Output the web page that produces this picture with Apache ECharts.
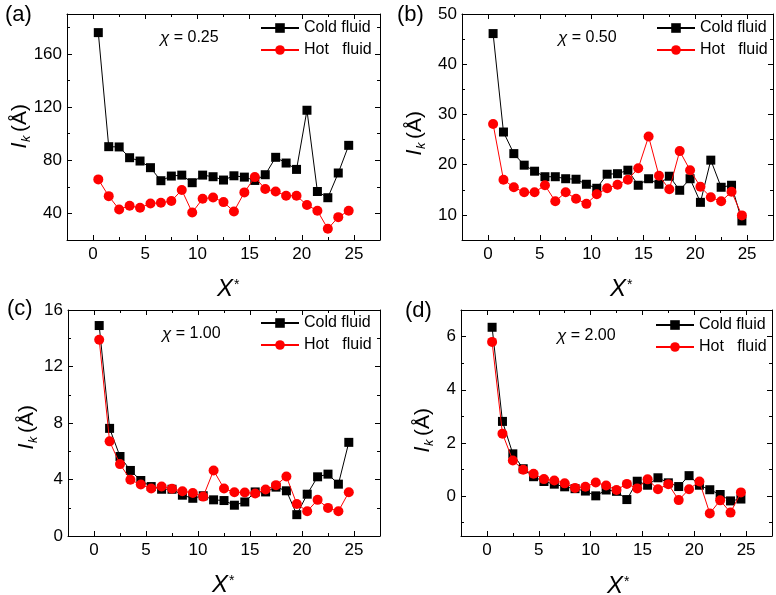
<!DOCTYPE html>
<html><head><meta charset="utf-8">
<script src="https://cdn.jsdelivr.net/npm/echarts@6/dist/echarts.min.js"></script>
<style>html,body{margin:0;padding:0;background:#fff}#c{width:776px;height:595px}</style>
</head><body><div id="c"></div>
<script>
// ---------------- data ----------------
const xStar = [0.5,1.5,2.5,3.5,4.5,5.5,6.5,7.5,8.5,9.5,10.5,11.5,12.5,13.5,14.5,15.5,16.5,17.5,18.5,19.5,20.5,21.5,22.5,23.5,24.5];

const coldA = [176,90.2,90,81.9,79.4,74.4,64.6,68.1,68.8,63.1,68.8,67.6,65.1,68.3,67.3,64.8,69.1,82.2,77.9,73.1,117.6,56.5,51.8,70.4,91.2];
const hotA  = [65.6,53.0,43.0,45.7,44.2,47.5,48.0,49.3,57.6,40.7,51.0,52.0,48.5,41.5,55.8,67.3,58.3,56.5,53.3,53.3,46.3,42.0,28.4,37.2,42.0];

const coldB = [46.1,26.5,22.2,19.9,18.7,17.6,17.6,17.2,17.1,16.1,15.3,18.1,18.2,18.9,15.9,17.2,16.1,17.7,14.9,17.2,12.5,20.9,15.5,15.9,8.8];
const hotB  = [28.1,17.0,15.5,14.5,14.5,15.9,12.7,14.5,13.2,12.2,14.1,15.3,16.0,17.0,19.3,25.6,17.8,15.1,22.7,18.9,15.6,13.5,12.7,14.6,9.9];

const coldC = [14.9,7.62,5.63,4.64,3.93,3.50,3.31,3.31,2.89,2.67,2.85,2.56,2.51,2.18,2.41,3.12,3.12,3.46,3.20,1.51,2.96,4.19,4.38,3.67,6.63];
const hotC  = [13.9,6.70,5.09,3.98,3.64,3.36,3.50,3.34,3.17,3.05,2.79,4.64,3.36,3.10,3.08,3.01,3.29,3.60,4.21,2.27,1.75,2.56,1.99,1.75,3.10];

const coldD = [6.35,2.81,1.59,1.03,0.73,0.55,0.45,0.35,0.28,0.19,0.01,0.23,0.18,-0.13,0.56,0.41,0.69,0.50,0.36,0.77,0.41,0.24,0.06,-0.18,-0.11];
const hotD  = [5.80,2.35,1.34,0.99,0.84,0.64,0.59,0.48,0.31,0.35,0.51,0.40,0.23,0.46,0.29,0.63,0.26,0.45,-0.15,0.26,0.55,-0.65,-0.16,-0.62,0.14];

const xTicks = [0,5,10,15,20,25];
const xMinorTicks = [2.5,7.5,12.5,17.5,22.5];
const xRange = [-2.5, 27.5];

const yRanges = [[20,190],[5,50],[0,16],[-1.5,7]];
const yTicks = [[40,80,120,160],[10,20,30,40,50],[0,4,8,12,16],[0,2,4,6]];
const yMinorTicks = [[60,100,140,180],[15,25,35,45],[2,6,10,14],[-1,1,3,5]];

const seriesNames = ['Cold fluid','Hot   fluid'];
const panelLabels = ['(a)','(b)','(c)','(d)'];
const chiValues = ['0.25','0.50','1.00','2.00'];
const coldData = [coldA, coldB, coldC, coldD];
const hotData = [hotA, hotB, hotC, hotD];

// ---------------- layout ----------------
const FF = '"Liberation Sans", Arial, sans-serif';
const grids = [
  {left:67, top:14, width:313, height:226},
  {left:462, top:14, width:311, height:226},
  {left:68, top:310, width:312, height:226},
  {left:461, top:310, width:311, height:226}
];
const legendPos = [{left:260, top:20},{left:656, top:20},{left:260, top:315},{left:655, top:317}];
const letterPos = [[5,15],[397,15],[7,309],[405,311]];
const yTitlePos = [[20,124],[415,131],[27,425],[423,428]];
const xTitlePos = [[217,289],[610,289],[212,585],[607,586]];
const chiPos = [[160,38],[558,38],[162,334],[557,336]];

const xAxes = [], yAxes = [], series = [], legends = [], graphics = [];
const lineCol = '#000';

function xAx(g, pos, vals, len, showLabel, showLine) {
  return {type:'value', gridIndex:g, position:pos, min:xRange[0], max:xRange[1],
    axisLine:{show:showLine, onZero:false, lineStyle:{color:lineCol, width:1}},
    axisTick:{show:true, inside:true, length:len, customValues:vals, lineStyle:{color:lineCol, width:1}},
    axisLabel:{show:showLabel, customValues:vals, margin:6, fontSize:17, color:'#000', fontFamily:FF},
    splitLine:{show:false}};
}
function yAx(g, pos, vals, len, showLabel, showLine) {
  return {type:'value', gridIndex:g, position:pos, min:yRanges[g][0], max:yRanges[g][1],
    axisLine:{show:showLine, onZero:false, lineStyle:{color:lineCol, width:1}},
    axisTick:{show:true, inside:true, length:len, customValues:vals, lineStyle:{color:lineCol, width:1}},
    axisLabel:{show:showLabel, customValues:vals, margin:5, fontSize:17, color:'#000', fontFamily:FF},
    splitLine:{show:false}};
}

for (let g = 0; g < 4; g++) {
  xAxes.push(xAx(g,'bottom',xTicks,5,true,true));
  xAxes.push(xAx(g,'bottom',xMinorTicks,3,false,false));
  xAxes.push(xAx(g,'top',xTicks,5,false,true));
  xAxes.push(xAx(g,'top',xMinorTicks,3,false,false));
  yAxes.push(yAx(g,'left',yTicks[g],5,true,true));
  yAxes.push(yAx(g,'left',yMinorTicks[g],3,false,false));
  yAxes.push(yAx(g,'right',yTicks[g],5,false,true));
  yAxes.push(yAx(g,'right',yMinorTicks[g],3,false,false));

  series.push({type:'line', name:seriesNames[0], xAxisIndex:g*4, yAxisIndex:g*4,
    data:xStar.map((x,i)=>[x, coldData[g][i]]), symbol:'rect', symbolSize:9, showAllSymbol:true,
    lineStyle:{color:'#000', width:1}, itemStyle:{color:'#000'}, z:2});
  series.push({type:'line', name:seriesNames[1], xAxisIndex:g*4, yAxisIndex:g*4,
    data:xStar.map((x,i)=>[x, hotData[g][i]]), symbol:'circle', symbolSize:10, showAllSymbol:true,
    lineStyle:{color:'#ff0000', width:1}, itemStyle:{color:'#ff0000'}, z:3});

  legends.push({left:legendPos[g].left, top:legendPos[g].top, orient:'vertical', itemWidth:38, itemHeight:12,
    itemGap:6, padding:0, selectedMode:false, data:seriesNames,
    textStyle:{fontSize:16, color:'#000', fontFamily:FF}});

  graphics.push({type:'text', x:letterPos[g][0], y:letterPos[g][1],
    style:{text:panelLabels[g], font:'22px ' + FF, fill:'#000', textVerticalAlign:'middle'}});

  graphics.push({type:'group', x:yTitlePos[g][0], y:yTitlePos[g][1], rotation:Math.PI/2, children:[
    {type:'text', x:-24, y:0, style:{text:'l', font:'italic 21px ' + FF, fill:'#000', textVerticalAlign:'middle'}},
    {type:'text', x:-18, y:6, style:{text:'k', font:'italic 13px ' + FF, fill:'#000', textVerticalAlign:'middle'}},
    {type:'text', x:-8, y:0, style:{text:'(Å)', font:'21px ' + FF, fill:'#000', textVerticalAlign:'middle'}}
  ]});

  graphics.push({type:'text', x:xTitlePos[g][0], y:xTitlePos[g][1],
    style:{text:'X', font:'italic 24px ' + FF, fill:'#000', textVerticalAlign:'middle'}});
  graphics.push({type:'text', x:xTitlePos[g][0] + 17, y:xTitlePos[g][1] - 11,
    style:{text:'*', font:'14px ' + FF, fill:'#000', textVerticalAlign:'top'}});

  graphics.push({type:'text', x:chiPos[g][0], y:chiPos[g][1],
    style:{text:'{c|χ}{n| = ' + chiValues[g] + '}', fill:'#000', textVerticalAlign:'middle',
      rich:{c:{font:'italic 17px ' + FF, fill:'#000'}, n:{font:'16px ' + FF, fill:'#000'}}}});
}

const chart = echarts.init(document.getElementById('c'), null, {renderer:'canvas'});
chart.setOption({
  animation:false,
  backgroundColor:'#fff',
  grid:grids.map(g => Object.assign({containLabel:false, outerBoundsMode:'none'}, g)),
  xAxis:xAxes,
  yAxis:yAxes,
  legend:legends,
  series:series,
  graphic:graphics
});
</script>
</body></html>
